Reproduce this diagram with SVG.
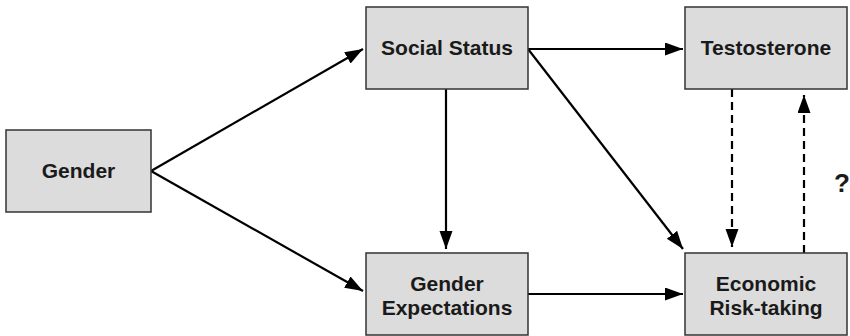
<svg xmlns="http://www.w3.org/2000/svg" width="850" height="336" viewBox="0 0 850 336">
  <style>
    .box { fill: #dcdcdc; stroke: #333333; stroke-width: 1.5; }
    .lbl { font-family: "Liberation Sans", Arial, sans-serif; font-weight: bold; font-size: 21px; fill: #1a1a1a; text-anchor: middle; }
    .edge { fill: none; stroke: #000000; stroke-width: 2.2; }
    .dash { stroke-dasharray: 8 5; }
  </style>
  <defs>
    <marker id="arr" markerUnits="userSpaceOnUse" markerWidth="20" markerHeight="14" refX="18" refY="6.5" orient="auto">
      <path d="M0,0 L18,6.5 L0,13 z" fill="#000000"/>
    </marker>
  </defs>
  <rect width="850" height="336" fill="#ffffff"/>

  <g id="connectors">
    <line class="edge" x1="151" y1="171" x2="363" y2="49" marker-end="url(#arr)"/>
    <line class="edge" x1="151" y1="171" x2="363" y2="291" marker-end="url(#arr)"/>
    <line class="edge" x1="528" y1="49" x2="683" y2="49" marker-end="url(#arr)"/>
    <line class="edge" x1="446" y1="89" x2="446" y2="249" marker-end="url(#arr)"/>
    <line class="edge" x1="528" y1="49" x2="683" y2="249" marker-end="url(#arr)"/>
    <line class="edge" x1="528" y1="294" x2="683" y2="294" marker-end="url(#arr)"/>
    <line class="edge dash" x1="732" y1="89" x2="732" y2="247" marker-end="url(#arr)"/>
    <line class="edge dash" x1="804" y1="253" x2="804" y2="95" marker-end="url(#arr)"/>
  </g>

  <g id="gender">
    <rect class="box" x="6" y="130" width="145" height="82"/>
    <text class="lbl" x="78.5" y="178">Gender</text>
  </g>
  <g id="social-status">
    <rect class="box" x="366" y="7" width="162" height="82"/>
    <text class="lbl" x="447" y="55">Social Status</text>
  </g>
  <g id="testosterone">
    <rect class="box" x="685" y="7" width="162" height="82"/>
    <text class="lbl" x="766" y="55">Testosterone</text>
  </g>
  <g id="gender-expectations">
    <rect class="box" x="366" y="253" width="162" height="82"/>
    <text class="lbl" x="447" y="291">Gender</text>
    <text class="lbl" x="447" y="315">Expectations</text>
  </g>
  <g id="economic-risk-taking">
    <rect class="box" x="685" y="253" width="162" height="82"/>
    <text class="lbl" x="766" y="291">Economic</text>
    <text class="lbl" x="766" y="315">Risk-taking</text>
  </g>
  <g id="question">
    <text class="lbl" x="842" y="192" style="font-size:26px">?</text>
  </g>
</svg>
